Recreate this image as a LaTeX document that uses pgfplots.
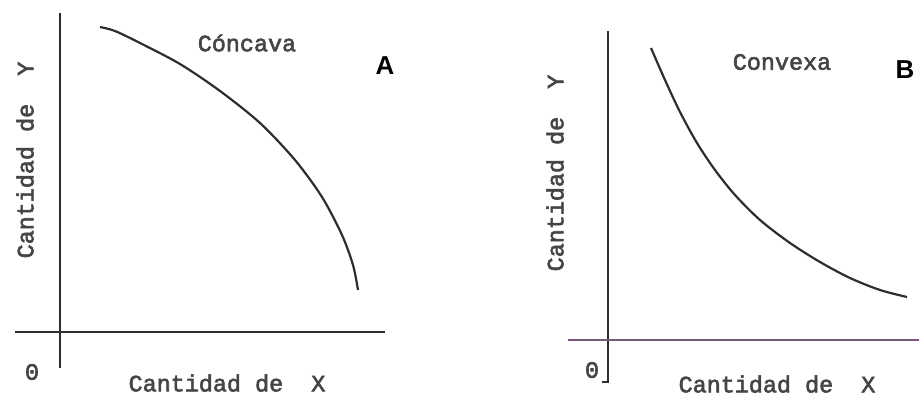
\documentclass[border=0pt]{standalone}
\usepackage{pgfplots}
\pgfplotsset{compat=1.18}
\usepackage{fontspec}
\setmainfont{Liberation Mono}[FakeBold=2.5]
\newfontfamily\labelsans{Liberation Sans}
\definecolor{ink}{HTML}{2E2E2E}
\definecolor{txt}{HTML}{454545}
\definecolor{purp}{HTML}{775A77}
\tikzset{lbl/.style={text=txt, font=\fontsize{23.5}{24}\selectfont, inner sep=0pt},
  big/.style={text=black, font=\labelsans\bfseries\fontsize{26}{26}\selectfont, inner sep=0pt}}
\begin{document}
\begin{tikzpicture}
\useasboundingbox (0,0) rectangle (919bp,398bp);
\pgfplotsset{panel/.style={scale only axis, hide axis, clip=false, y dir=reverse,
  ymin=0, ymax=398, height=398bp, anchor=south west}}
% Panel A
\begin{axis}[panel, at={(0,0)}, xmin=0, xmax=460, width=460bp]
\addplot[ink, line width=1.5bp] coordinates {(60,13) (60,368)};
\addplot[ink, line width=1.5bp] coordinates {(15,332) (385,332)};
\addplot[ink, line width=2.2bp, smooth] coordinates {(100,27) (115,31) (140,43) (180,64) (220,91) (260,123) (295,160) (322,197) (342,235) (353,265) (358,290)};
\node[lbl] at (axis cs:247,43) {C\'oncava};
\node[big] at (axis cs:385,66) {A};
\node[lbl] at (axis cs:32,372) {0};
\node[lbl] at (axis cs:227,383) {Cantidad de\ \ X};
\node[lbl, rotate=90] at (axis cs:25,160) {Cantidad de\ \ Y};
\end{axis}
% Panel B
\begin{axis}[panel, at={(460bp,0)}, xmin=460, xmax=919, width=459bp]
\addplot[ink, line width=1.5bp] coordinates {(608,31) (608,382) (602,382)};
\addplot[purp, line width=1.6bp] coordinates {(568,340) (919,340)};
\addplot[ink, line width=2.2bp, smooth] coordinates {(651,48) (665,80) (680,112) (697,143) (715,170) (735,195) (760,220) (790,243) (820,262) (850,278) (880,290) (907,297)};
\node[lbl] at (axis cs:782,62) {Convexa};
\node[big] at (axis cs:905,70) {B};
\node[lbl] at (axis cs:592,370) {0};
\node[lbl] at (axis cs:777,384) {Cantidad de\ \ X};
\node[lbl, rotate=90] at (axis cs:555,173) {Cantidad de\ \ Y};
\end{axis}
\end{tikzpicture}
\end{document}
